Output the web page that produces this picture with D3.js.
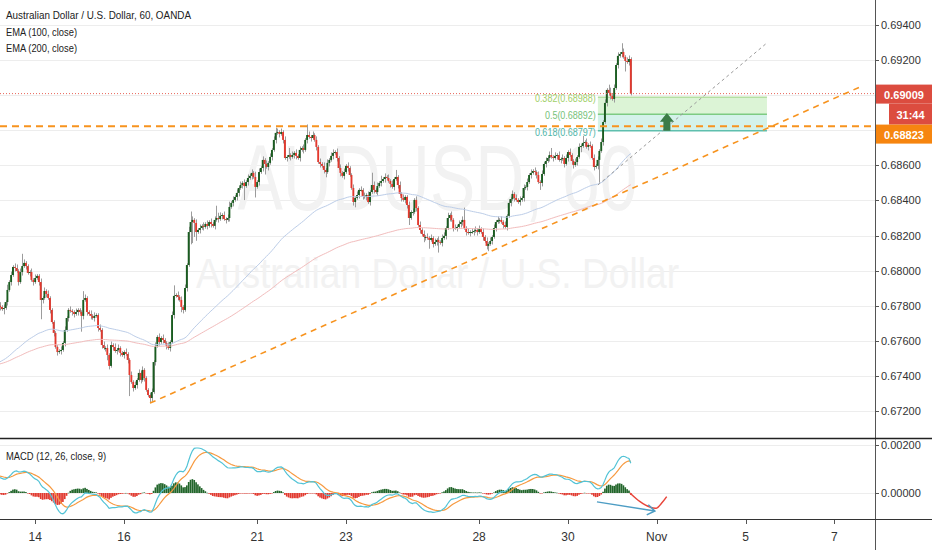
<!DOCTYPE html>
<html><head><meta charset="utf-8">
<script src="https://cdn.jsdelivr.net/npm/d3@7"></script>
<style>html,body{margin:0;padding:0;background:#fff;overflow:hidden}svg{display:block}text{font-family:"Liberation Sans",Arial,sans-serif}</style>
</head><body><svg id="c" width="932" height="550"></svg>
<script>
// ---------------- data ----------------
const title = "Australian Dollar / U.S. Dollar, 60, OANDA";
const emaLegend = ["EMA (100, close)", "EMA (200, close)"];
const macdLegend = "MACD (12, 26, close, 9)";
const firstOpen = 0.67800;
// hourly closes, AUDUSD
const closes = [
0.67793,0.67781,0.67787,0.67821,0.67890,0.67935,0.67975,0.68021,0.68015,0.67998,
0.67935,0.67992,0.68026,0.68044,0.68026,0.67987,0.67992,0.67947,0.67935,0.67958,
0.67970,0.67935,0.67833,0.67844,0.67884,0.67867,0.67844,0.67776,0.67707,0.67645,
0.67565,0.67536,0.67542,0.67548,0.67588,0.67662,0.67730,0.67776,0.67770,0.67764,
0.67753,0.67764,0.67776,0.67764,0.67742,0.67833,0.67844,0.67764,0.67753,0.67742,
0.67730,0.67742,0.67747,0.67673,0.67662,0.67576,0.67559,0.67559,0.67519,0.67457,
0.67576,0.67565,0.67542,0.67548,0.67559,0.67531,0.67519,0.67536,0.67525,0.67491,
0.67405,0.67365,0.67331,0.67348,0.67377,0.67417,0.67377,0.67434,0.67388,0.67320,
0.67291,0.67274,0.67308,0.67479,0.67571,0.67622,0.67593,0.67616,0.67605,0.67588,
0.67571,0.67559,0.67593,0.67747,0.67856,0.67861,0.67850,0.67833,0.67793,0.67776,
0.67901,0.68032,0.68220,0.68277,0.68289,0.68272,0.68220,0.68232,0.68243,0.68255,
0.68249,0.68266,0.68255,0.68277,0.68266,0.68255,0.68289,0.68300,0.68294,0.68312,
0.68317,0.68294,0.68289,0.68300,0.68363,0.68386,0.68403,0.68420,0.68443,0.68471,
0.68488,0.68500,0.68482,0.68505,0.68528,0.68540,0.68557,0.68534,0.68477,0.68505,
0.68562,0.68585,0.68631,0.68608,0.68591,0.68614,0.68648,0.68688,0.68745,0.68785,
0.68790,0.68779,0.68790,0.68745,0.68642,0.68648,0.68659,0.68648,0.68659,0.68671,
0.68654,0.68642,0.68688,0.68699,0.68688,0.68745,0.68773,0.68762,0.68756,0.68773,
0.68745,0.68705,0.68619,0.68608,0.68597,0.68574,0.68562,0.68614,0.68631,0.68654,
0.68671,0.68676,0.68642,0.68585,0.68557,0.68540,0.68562,0.68597,0.68585,0.68545,
0.68471,0.68391,0.68414,0.68431,0.68460,0.68460,0.68425,0.68420,0.68431,0.68391,
0.68448,0.68488,0.68460,0.68448,0.68482,0.68500,0.68511,0.68522,0.68534,0.68528,
0.68511,0.68494,0.68477,0.68522,0.68534,0.68488,0.68437,0.68414,0.68403,0.68420,
0.68374,0.68300,0.68334,0.68334,0.68403,0.68357,0.68260,0.68232,0.68209,0.68192,
0.68192,0.68186,0.68175,0.68186,0.68152,0.68163,0.68175,0.68163,0.68158,0.68186,
0.68198,0.68243,0.68300,0.68317,0.68289,0.68243,0.68243,0.68249,0.68266,0.68277,
0.68289,0.68243,0.68220,0.68215,0.68220,0.68220,0.68226,0.68232,0.68220,0.68237,
0.68220,0.68192,0.68169,0.68141,0.68152,0.68169,0.68192,0.68243,0.68277,0.68289,
0.68289,0.68277,0.68260,0.68249,0.68312,0.68386,0.68408,0.68437,0.68414,0.68403,
0.68391,0.68403,0.68414,0.68471,0.68477,0.68505,0.68545,0.68557,0.68568,0.68562,
0.68545,0.68505,0.68500,0.68551,0.68608,0.68625,0.68642,0.68659,0.68648,0.68642,
0.68654,0.68659,0.68631,0.68636,0.68642,0.68608,0.68642,0.68676,0.68659,0.68625,
0.68602,0.68619,0.68648,0.68705,0.68710,0.68728,0.68733,0.68705,0.68716,0.68710,
0.68642,0.68591,0.68597,0.68631,0.68682,0.68733,0.68847,0.68956,0.69030,0.69013,
0.68996,0.68978,0.69041,0.69172,0.69224,0.69235,0.69246,0.69218,0.69195,0.69189,
0.69206,0.69009];
// wick lengths beyond the body, in pips (one base-36 character per bar)
const wickUp = ["2121312122","1272111212","1121212111","1112121121","1211152112","1211212121","2121211121","1212121211","1121212121","1212612121",
"2136212121","2121212732","1212312121","2121212131","2121212123","2121214121","2121216212","1212121212","2121212121","1212121212",
"1721213121","2121412121","1212121212","1212121212","2131212121","2712121212","1212121212","1212121212","1212121212","1212121241",
"2121212121","1212141212","1212121213","3121215212","21"].join("");
const wickDn = ["2131212121","2121212121","12b2121212","1212121212","2121921212","1212121232","1212121212","c121212121","1321212121","2121212132",
"1217c85121","2121212121","2121212122","1281212161","2126121212","1212121212","2121212121","1212123121","2121212121","1231212121",
"2121212121","1212121212","2412121213","2151212612","1212121212","2121212121","1212312121","2121212121","1212121212","2142121212",
"1212121212","2121312121","1212d12121","2121212161","21"].join("");
// indicator states just before the first visible bar
const emaSeeds = [0.67474, 0.67465];            // EMA100, EMA200
const macdSeeds = [0.67760, 0.67693, 0.00072];  // EMA12, EMA26, signal
const priceTicks = [0.672,0.674,0.676,0.678,0.680,0.682,0.684,0.686,0.688,0.690,0.692,0.694];
const macdTicks = [0, 0.002];
const dateLabels = ["14","16","21","23","28","30","Nov","5","7"];
const dateBars = [19,67,139,187,259,307,355,403,451];
const lastPrice = 0.69009;
const countdown = "31:44";
const hLevel = 0.68823;
const trendLine = [[81.1,0.67245],[464.9,0.69047]];
const dottedLine = [[323.2,0.68488],[414.6,0.69298]];
const fibRatios = ["0.382","0.5","0.618"];
const fibPrices = [0.68988,0.68892,0.68797];
const fibSpan = [323.2,414.6];
const arrowMark = [360.5,0.68797,0.68899];
const macdCurve = [[340.5,0],[346,-0.00036],[351.4,-0.00059],[355,-0.00063],[357.7,-0.00042],[360.4,-0.00015]];
const macdArrow = [[322.7,-0.00037],[354,-0.00075]];

// ---------------- layout ----------------
const W=932,H=550,PW=875,MAIN_B=438,MACD_T=439,MACD_B=519;
const svg=d3.select("#c");
const x=d3.scaleLinear().domain([0,473]).range([0,PW]);
const y=d3.scaleLinear().domain([0.672,0.694]).range([411,25]);
const ym=d3.scaleLinear().domain([0,0.002]).range([493,445]);
const step=x(1)-x(0);

const defs=svg.append("defs");
defs.append("clipPath").attr("id","cm").append("rect").attr("x",0).attr("y",0).attr("width",PW).attr("height",MAIN_B);
defs.append("clipPath").attr("id","cd").append("rect").attr("x",0).attr("y",MACD_T).attr("width",PW).attr("height",MACD_B-MACD_T);
svg.append("rect").attr("width",W).attr("height",H).attr("fill","#fff");

// ---------- main pane ----------
const gm=svg.append("g").attr("clip-path","url(#cm)");
gm.selectAll("line.grid").data(priceTicks).join("line").attr("x1",0).attr("x2",PW)
  .attr("y1",d=>Math.round(y(d))+0.5).attr("y2",d=>Math.round(y(d))+0.5).attr("stroke","#ededed");
// watermark (drawn as a background layer)
const wm=gm.append("g").attr("pointer-events","none");
wm.append("text").attr("x",PW/2).attr("y",210).attr("text-anchor","middle").attr("font-size",92)
  .attr("fill","#f2f2f2").attr("textLength",400).attr("lengthAdjust","spacingAndGlyphs").text("AUDUSD, 60");
wm.append("text").attr("x",PW/2).attr("y",288).attr("text-anchor","middle").attr("font-size",42)
  .attr("fill","#f2f2f2").attr("textLength",483).attr("lengthAdjust","spacingAndGlyphs").text("Australian Dollar / U.S. Dollar");

// fib retracement
const fx0=x(fibSpan[0]), fx1=x(fibSpan[1]);
const fibLine=["#b5e0a2","#7dcb82","#5fbfae"], fibText=["#9fcf6a","#76c27a","#4fb5a8"], fibFill=["#dcf4d6","#d4f2ea"];
for(let k=0;k<2;k++) gm.append("rect").attr("x",fx0).attr("width",fx1-fx0).attr("y",y(fibPrices[k])).attr("height",y(fibPrices[k+1])-y(fibPrices[k])).attr("fill",fibFill[k]);
fibPrices.forEach((p,k)=>{
  gm.append("line").attr("x1",fx0).attr("x2",fx1).attr("y1",y(p)).attr("y2",y(p)).attr("stroke",fibLine[k]).attr("stroke-width",1.5);
  const t=fibRatios[k]+"("+p.toFixed(5)+")";
  gm.append("text").attr("x",fx0-2).attr("y",y(p)+1.5).attr("text-anchor","end").attr("dominant-baseline","central")
    .attr("font-size",10).attr("fill",fibText[k]).attr("textLength",k==1?51:61).attr("lengthAdjust","spacingAndGlyphs").text(t);
});

// candles
const bars=closes.map((c,i)=>{const o=i?closes[i-1]:firstOpen;const u=parseInt(wickUp[i]||"1",36)*1e-4,d=parseInt(wickDn[i]||"1",36)*1e-4;
  return {i,o,c,h:Math.max(o,c)+u,l:Math.min(o,c)-d};});
gm.selectAll("line.wick").data(bars).join("line").attr("x1",d=>Math.round(x(d.i))+0.5).attr("x2",d=>Math.round(x(d.i))+0.5)
  .attr("y1",d=>y(d.h)).attr("y2",d=>y(d.l)).attr("stroke","#9c9c9c").attr("stroke-width",1);
gm.selectAll("rect.body").data(bars).join("rect").attr("x",d=>x(d.i)-0.95).attr("width",1.9)
  .attr("y",d=>y(Math.max(d.o,d.c))).attr("height",d=>Math.max(1,Math.abs(y(d.o)-y(d.c))))
  .attr("fill",d=>d.c>=d.o?"#1a5c20":"#e3392e");

// EMAs (computed from the closes, as the chart does)
function ema(vals,n,seed){const a=2/(n+1);let e=seed;return vals.map(v=>(e=e+a*(v-e)));}
const ema100=ema(closes,100,emaSeeds[0]), ema200=ema(closes,200,emaSeeds[1]);
const ln=d3.line().x((d,i)=>x(i)).y(d=>y(d));
gm.append("path").attr("d",ln(ema200)).attr("fill","none").attr("stroke","#f2bcbc").attr("stroke-width",1);
gm.append("path").attr("d",ln(ema100)).attr("fill","none").attr("stroke","#bccde8").attr("stroke-width",1);

// last price line
gm.append("line").attr("x1",0).attr("x2",PW).attr("y1",y(lastPrice)).attr("y2",y(lastPrice))
  .attr("stroke","#e8665a").attr("stroke-width",1).attr("stroke-dasharray","1,2");
// drawings
gm.append("line").attr("x1",0).attr("x2",PW).attr("y1",y(hLevel)).attr("y2",y(hLevel))
  .attr("stroke","#f7931e").attr("stroke-width",2).attr("stroke-dasharray","7,5");
gm.append("line").attr("x1",x(trendLine[0][0])).attr("y1",y(trendLine[0][1])).attr("x2",x(trendLine[1][0])).attr("y2",y(trendLine[1][1]))
  .attr("stroke","#f7931e").attr("stroke-width",1.6).attr("stroke-dasharray","6,5");
gm.append("line").attr("x1",x(dottedLine[0][0])).attr("y1",y(dottedLine[0][1])).attr("x2",x(dottedLine[1][0])).attr("y2",y(dottedLine[1][1]))
  .attr("stroke","#9a9a9a").attr("stroke-width",1).attr("stroke-dasharray","3,3");
{
  const ax=x(arrowMark[0]), yb=y(arrowMark[1]), yt=y(arrowMark[2]), yh=yt+(yb-yt)*0.5;
  gm.append("path").attr("d",`M${ax},${yt}L${ax+7},${yh}L${ax+3.5},${yh}L${ax+3.5},${yb}L${ax-3.5},${yb}L${ax-3.5},${yh}L${ax-7},${yh}Z`)
    .attr("fill","#3c7c47");
}

// legend
svg.append("text").attr("x",6).attr("y",19).attr("font-size",11).attr("fill","#222").attr("textLength",185).attr("lengthAdjust","spacingAndGlyphs").text(title);
emaLegend.forEach((t,k)=>svg.append("text").attr("x",6).attr("y",35.5+k*16.5).attr("font-size",11).attr("fill","#222")
  .attr("textLength",71).attr("lengthAdjust","spacingAndGlyphs").text(t));

// ---------- MACD pane ----------
const gd=svg.append("g").attr("clip-path","url(#cd)");
gd.selectAll("line.mg").data(macdTicks).join("line").attr("x1",0).attr("x2",PW)
  .attr("y1",d=>Math.round(ym(d))+0.5).attr("y2",d=>Math.round(ym(d))+0.5).attr("stroke","#ededed");
const e12=ema(closes,12,macdSeeds[0]), e26=ema(closes,26,macdSeeds[1]);
const macd=e12.map((v,i)=>v-e26[i]);
const signal=ema(macd,9,macdSeeds[2]);
const hist=macd.map((v,i)=>v-signal[i]);
gd.selectAll("rect.h").data(hist).join("rect").attr("x",(d,i)=>x(i)-step*0.45).attr("width",step*0.9)
  .attr("y",d=>d>=0?ym(d):ym(0)).attr("height",d=>Math.max(0.5,Math.abs(ym(d)-ym(0))))
  .attr("fill",d=>d>=0?"#21652a":"#e23a30");
const lm=d3.line().x((d,i)=>x(i)).y(d=>ym(d));
gd.append("path").attr("d",lm(signal)).attr("fill","none").attr("stroke","#f79a40").attr("stroke-width",1.2);
gd.append("path").attr("d",lm(macd)).attr("fill","none").attr("stroke","#52c3d6").attr("stroke-width",1.2);
gd.append("path").attr("d",d3.line().curve(d3.curveCatmullRom).x(d=>x(d[0])).y(d=>ym(d[1]))(macdCurve))
  .attr("fill","none").attr("stroke","#e8453a").attr("stroke-width",1.5);
{
  const [a,b]=macdArrow, x0=x(a[0]),y0=ym(a[1]),x1=x(b[0]),y1=ym(b[1]);
  const ang=Math.atan2(y1-y0,x1-x0), L=9;
  gd.append("path").attr("d",`M${x0},${y0}L${x1},${y1}M${x1-L*Math.cos(ang-0.6)},${y1-L*Math.sin(ang-0.6)}L${x1},${y1}L${x1-L*Math.cos(ang+0.6)},${y1-L*Math.sin(ang+0.6)}`)
    .attr("fill","none").attr("stroke","#4d9dc4").attr("stroke-width",1.5);
}
svg.append("text").attr("x",6).attr("y",460).attr("font-size",11).attr("fill","#222").attr("textLength",100).attr("lengthAdjust","spacingAndGlyphs").text(macdLegend);

// ---------- axes ----------
svg.append("rect").attr("x",PW+1).attr("y",0).attr("width",W-PW-1).attr("height",H).attr("fill","#fff");
svg.append("line").attr("x1",PW+0.5).attr("x2",PW+0.5).attr("y1",0).attr("y2",H).attr("stroke","#555");
svg.append("line").attr("x1",0).attr("x2",W).attr("y1",MAIN_B+0.5).attr("y2",MAIN_B+0.5).attr("stroke","#222").attr("stroke-width",1.6);
svg.append("line").attr("x1",0).attr("x2",W).attr("y1",MACD_B+0.5).attr("y2",MACD_B+0.5).attr("stroke","#333");
const hidden=[0.690,0.688];
priceTicks.filter(t=>!hidden.some(h=>Math.abs(h-t)<1e-9)).forEach(t=>{
  svg.append("line").attr("x1",PW).attr("x2",PW+4).attr("y1",Math.round(y(t))+0.5).attr("y2",Math.round(y(t))+0.5).attr("stroke","#555");
  svg.append("text").attr("x",881).attr("y",y(t)).attr("dominant-baseline","central").attr("font-size",11).attr("fill","#333").text(t.toFixed(5));
});
macdTicks.forEach(t=>{
  svg.append("line").attr("x1",PW).attr("x2",PW+4).attr("y1",Math.round(ym(t))+0.5).attr("y2",Math.round(ym(t))+0.5).attr("stroke","#555");
  svg.append("text").attr("x",881).attr("y",ym(t)).attr("dominant-baseline","central").attr("font-size",11).attr("fill","#333").text(t.toFixed(5));
});
// price labels
function tag(x0,y0,w,h,fill,txt){svg.append("rect").attr("x",x0).attr("y",y0).attr("width",w).attr("height",h).attr("fill",fill);
  svg.append("text").attr("x",x0+w/2).attr("y",y0+h/2+0.5).attr("text-anchor","middle").attr("dominant-baseline","central")
   .attr("font-size",11).attr("font-weight","bold").attr("fill","#fff").text(txt);}
tag(876,y(lastPrice)-9,56,19,"#dc4c3f",lastPrice.toFixed(5));
tag(889,y(lastPrice)+10,43,21,"#dc4c3f",countdown);
tag(876,y(lastPrice)+31,56,19,"#f6850f",hLevel.toFixed(5));
// time axis
dateLabels.forEach((t,k)=>{
  const xx=Math.round(x(dateBars[k]))+0.5;
  svg.append("line").attr("x1",xx).attr("x2",xx).attr("y1",MACD_B+1).attr("y2",MACD_B+5).attr("stroke","#555");
  svg.append("text").attr("x",x(dateBars[k])).attr("y",541).attr("text-anchor","middle").attr("font-size",12).attr("fill","#333").text(t);
});
</script></body></html>
